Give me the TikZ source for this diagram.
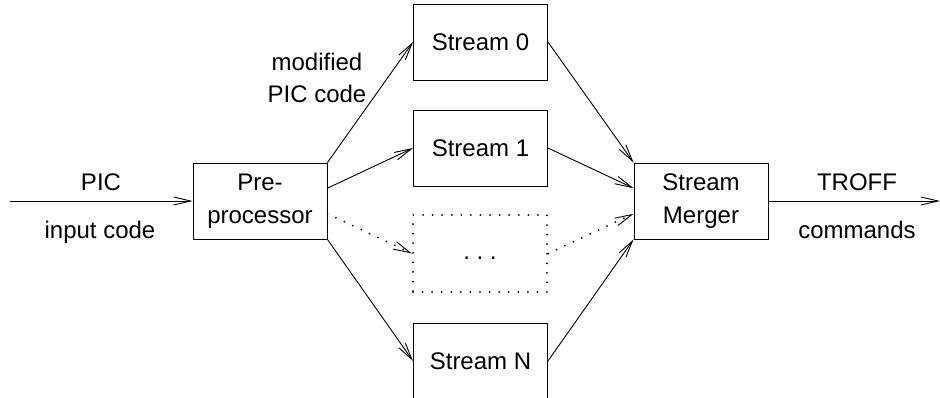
\documentclass[tikz,border=0pt]{standalone}
\usepackage{fontspec}
\setmainfont{Liberation Sans}
\usetikzlibrary{arrows.meta,calc}
\begin{document}
\begin{tikzpicture}[x=1pt,y=-1pt,
  txt/.style={font=\fontsize{24}{33}\selectfont},
  box/.style={txt,draw,line width=0.9pt,minimum width=134pt,minimum height=76pt,inner sep=0pt,align=center},
  dotbox/.style={draw,line width=2pt,line cap=round,dash pattern=on 0pt off 9.57pt,minimum width=134pt,minimum height=77pt,inner sep=0pt},
  lbl/.style={txt,anchor=base,inner sep=0pt},
  arr/.style={line width=0.9pt,-{Straight Barb[length=17pt,width=8pt,line width=0.9pt]}},
  dotarr/.style={line width=2pt,line cap=round,dash pattern=on 0pt off 9.3pt,-{Straight Barb[length=17pt,width=8pt,line width=0.9pt]}},
]
\clip (0,0) rectangle (940,397);
% boxes
\node[box] (pre) at (260,201) {Pre-\\processor};
\node[box] (s0) at (480.5,42) {Stream 0};
\node[box] (s1) at (480.5,148) {Stream 1};
\node[dotbox] (sd) at (480,253.5) {};
\node[txt,inner sep=0pt,anchor=base] (dots) at (480,259) {.\ .\ .};
\node[box] (sn) at (480.5,361) {Stream N};
\node[box] (mer) at (701,201) {Stream\\Merger};
% free ends
\coordinate (in) at (10,201);
\coordinate (out) at (940,201);
% labels
\node[lbl] (l1) at (101,190) {PIC};
\node[lbl] (l2) at (100,238) {input code};
\node[lbl] (l3) at (317,70) {modified};
\node[lbl] (l4) at (317,102) {PIC code};
\node[lbl] (l5) at (857,190) {TROFF};
\node[lbl] (l6) at (857,238) {commands};
% connectors
\draw[arr] (in) -- (pre.west);
\draw[arr] (pre.north east) -- (s0.west);
\draw[arr] ($(pre.north east)!1/3!(pre.south east)$) -- (s1.west);
\draw[dotarr] ($(pre.north east)!2/3!(pre.south east)$) -- (sd.west);
\draw[arr] (pre.south east) -- (sn.west);
\draw[arr] (s0.east) -- (mer.north west);
\draw[arr] (s1.east) -- ($(mer.north west)!1/3!(mer.south west)$);
\draw[dotarr] (sd.east) -- ($(mer.north west)!2/3!(mer.south west)$);
\draw[arr] (sn.east) -- (mer.south west);
\draw[arr] (mer.east) -- (out);
\end{tikzpicture}
\end{document}
